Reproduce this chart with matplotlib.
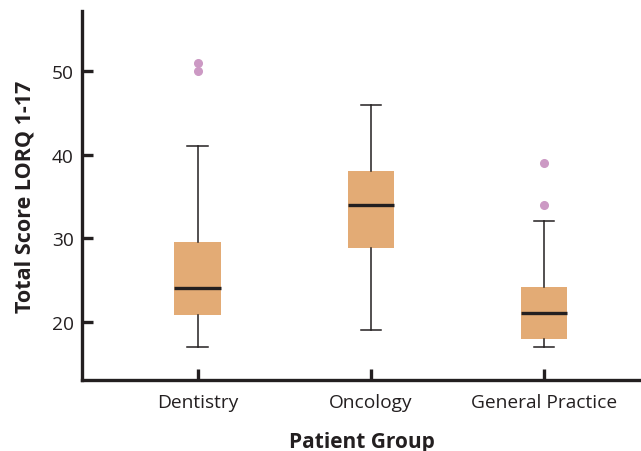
import matplotlib
matplotlib.use("Agg")
import matplotlib.pyplot as plt

# summary values
groups = ["Dentistry", "Oncology", "General Practice"]
whis_low = [17, 19, 17]
q1 = [20.8, 28.8, 17.9]
medians = [24, 34, 21]
q3 = [29.6, 38.1, 24.1]
whis_high = [41, 46, 32]
outliers = [[50, 51], [], [34, 39]]

TXT = "#231f20"
BOX = "#e3ab75"
DOT = "#cc99c4"

plt.rcParams["font.family"] = ["Open Sans", "DejaVu Sans"]

stats = []
for i, g in enumerate(groups):
    stats.append(dict(label=g, whislo=whis_low[i], q1=q1[i], med=medians[i],
                      q3=q3[i], whishi=whis_high[i], fliers=outliers[i]))

fig = plt.figure(figsize=(6.41, 4.52), dpi=100)
ax = fig.add_axes([0.128, 0.157, 0.872, 0.816])

ax.bxp(stats, positions=[1, 2, 3], widths=0.27, patch_artist=True,
       boxprops=dict(facecolor=BOX, edgecolor=BOX, linewidth=0),
       medianprops=dict(color=TXT, linewidth=2.4),
       whiskerprops=dict(color=TXT, linewidth=1.1),
       capprops=dict(color=TXT, linewidth=1.1),
       capwidths=0.12,
       flierprops=dict(marker="o", markerfacecolor=DOT, markeredgecolor=DOT,
                       markersize=5.5))

ax.set_xlim(0.331, 3.56)
ax.set_ylim(13, 57.2)
ax.set_yticks([20, 30, 40, 50])
ax.set_xticks([1, 2, 3])
ax.set_xticklabels(groups)

for s in ["top", "right"]:
    ax.spines[s].set_visible(False)
for s in ["left", "bottom"]:
    ax.spines[s].set_linewidth(2.4)
    ax.spines[s].set_color(TXT)

ax.tick_params(direction="in", length=8, width=2.4, color=TXT,
               labelsize=13.8, labelcolor=TXT)
ax.tick_params(axis="x", pad=9)
ax.tick_params(axis="y", pad=6)

ax.set_xlabel("Patient Group", fontsize=15, fontweight="bold", color=TXT, labelpad=15)
ax.set_ylabel("Total Score LORQ 1-17", fontsize=15.5, fontweight="bold", color=TXT, labelpad=12)

fig.savefig("out.png", dpi=100)
